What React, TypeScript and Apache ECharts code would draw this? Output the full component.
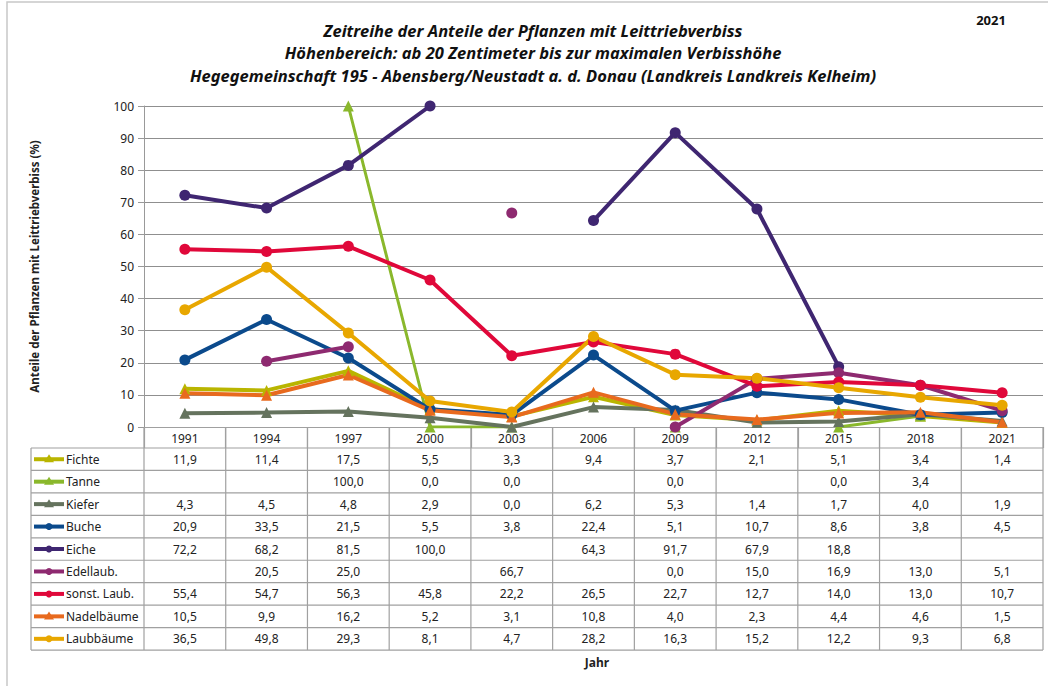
import React, { useEffect, useRef } from "react";
import * as echarts from "echarts";

const years = ["1991", "1994", "1997", "2000", "2003", "2006", "2009", "2012", "2015", "2018", "2021"];
const seriesNames = ["Fichte", "Tanne", "Kiefer", "Buche", "Eiche", "Edellaub.", "sonst. Laub.", "Nadelbäume", "Laubbäume"];
const fichte = [11.9, 11.4, 17.5, 5.5, 3.3, 9.4, 3.7, 2.1, 5.1, 3.4, 1.4];
const tanne = [null, null, 100.0, 0.0, 0.0, null, 0.0, null, 0.0, 3.4, null];
const kiefer = [4.3, 4.5, 4.8, 2.9, 0.0, 6.2, 5.3, 1.4, 1.7, 4.0, 1.9];
const buche = [20.9, 33.5, 21.5, 5.5, 3.8, 22.4, 5.1, 10.7, 8.6, 3.8, 4.5];
const eiche = [72.2, 68.2, 81.5, 100.0, null, 64.3, 91.7, 67.9, 18.8, null, null];
const edellaub = [null, 20.5, 25.0, null, 66.7, null, 0.0, 15.0, 16.9, 13.0, 5.1];
const sonstLaub = [55.4, 54.7, 56.3, 45.8, 22.2, 26.5, 22.7, 12.7, 14.0, 13.0, 10.7];
const nadelbaeume = [10.5, 9.9, 16.2, 5.2, 3.1, 10.8, 4.0, 2.3, 4.4, 4.6, 1.5];
const laubbaeume = [36.5, 49.8, 29.3, 8.1, 4.7, 28.2, 16.3, 15.2, 12.2, 9.3, 6.8];
const seriesData = [fichte, tanne, kiefer, buche, eiche, edellaub, sonstLaub, nadelbaeume, laubbaeume];
const seriesColors = ["#B9B500", "#8AB82C", "#65735E", "#0B4A8C", "#3F2671", "#8E2A70", "#E0083A", "#E86A1E", "#E8A700"];
const seriesSymbols = ["triangle", "triangle", "triangle", "circle", "circle", "circle", "circle", "triangle", "circle"];
const yTicks = [0, 10, 20, 30, 40, 50, 60, 70, 80, 90, 100];

const titleLines = [
  "Zeitreihe der Anteile der Pflanzen mit Leittriebverbiss",
  "Höhenbereich: ab 20 Zentimeter bis zur maximalen Verbisshöhe",
  "Hegegemeinschaft 195 - Abensberg/Neustadt a. d. Donau (Landkreis Landkreis Kelheim)",
];

const FONT = "'Noto Sans', 'Open Sans', sans-serif";
const W = 1048;
const H = 686;
const GL = 144;
const GR = 1043;
const GT = 106;
const GB = 427;
const HEADER_B = 448;
const ROW_H = 22.45;
const LEG_L = 31;
const LINE_C = "#A0A0A0";

function fmt(v: number | null) {
  if (v === null || v === undefined) return "";
  return v.toFixed(1).replace(".", ",");
}

export default function App() {
  const ref = useRef<HTMLDivElement>(null);
  useEffect(() => {
    if (!ref.current) return;
    const chart = echarts.init(ref.current, null, { renderer: "svg" });
    const colW = (GR - GL) / years.length;
    const graphics: any[] = [];
    // outer frame
    graphics.push({ type: "rect", shape: { x: 7, y: 2, width: W + 20, height: H + 20 }, style: { fill: "none", stroke: "#C8C8C8", lineWidth: 1.5 }, silent: true });
    titleLines.forEach((t, i) => {
      graphics.push({
        type: "text", x: 533, y: 30 + i * 22.5,
        style: { text: t, fill: "#111", font: `italic bold 16.5px ${FONT}`, textAlign: "center", textVerticalAlign: "middle" },
      });
    });
    graphics.push({ type: "text", x: 991, y: 20, style: { text: "2021", fill: "#111", font: `bold 13px ${FONT}`, textAlign: "center", textVerticalAlign: "middle" } });
    graphics.push({ type: "text", x: 597, y: 662, style: { text: "Jahr", fill: "#222", font: `bold 12px ${FONT}`, textAlign: "center", textVerticalAlign: "middle" } });
    // table lines
    const tableBottom = HEADER_B + ROW_H * seriesNames.length;
    for (let i = 0; i <= years.length; i++) {
      const x = GL + i * colW;
      graphics.push({ type: "line", shape: { x1: x, y1: GB, x2: x, y2: tableBottom }, style: { stroke: LINE_C, lineWidth: 1.2 }, silent: true });
    }
    graphics.push({ type: "line", shape: { x1: LEG_L, y1: HEADER_B, x2: LEG_L, y2: tableBottom }, style: { stroke: LINE_C, lineWidth: 1.2 }, silent: true });
    for (let r = 0; r <= seriesNames.length; r++) {
      const y = HEADER_B + r * ROW_H;
      graphics.push({ type: "line", shape: { x1: LEG_L, y1: y, x2: GR, y2: y }, style: { stroke: LINE_C, lineWidth: 1.2 }, silent: true });
    }
    seriesNames.forEach((name, r) => {
      const cy = HEADER_B + r * ROW_H + ROW_H / 2;
      const col = seriesColors[r];
      graphics.push({ type: "line", shape: { x1: 34, y1: cy, x2: 64, y2: cy }, style: { stroke: col, lineWidth: 4 }, silent: true });
      if (seriesSymbols[r] === "circle") {
        graphics.push({ type: "circle", shape: { cx: 49, cy, r: 3.5 }, style: { fill: col }, silent: true });
      } else {
        graphics.push({ type: "polygon", shape: { points: [[49, cy - 5], [54, cy + 3], [44, cy + 3]] }, style: { fill: col }, silent: true });
      }
      graphics.push({ type: "text", x: 66, y: cy, style: { text: name, fill: "#222", font: `12px ${FONT}`, textAlign: "left", textVerticalAlign: "middle" } });
      seriesData[r].forEach((v, c) => {
        const s = fmt(v as any);
        if (!s) return;
        graphics.push({ type: "text", x: GL + (c + 0.5) * colW, y: cy, style: { text: s, fill: "#222", font: `12px ${FONT}`, textAlign: "center", textVerticalAlign: "middle" } });
      });
    });

    chart.setOption({
      animation: false,
      backgroundColor: "#fff",
      grid: { left: GL, right: W - GR, top: GT, bottom: H - GB },
      xAxis: {
        type: "category",
        data: years,
        boundaryGap: true,
        axisLine: { lineStyle: { color: LINE_C, width: 1.2 } },
        axisTick: { show: true, interval: 0, length: HEADER_B - GB, lineStyle: { color: LINE_C, width: 1.2 } },
        axisLabel: { color: "#222", fontSize: 12, fontFamily: FONT, margin: 5, interval: 0 },
        splitLine: { show: false },
      },
      yAxis: {
        type: "value",
        min: yTicks[0],
        max: yTicks[yTicks.length - 1],
        interval: 10,
        name: "Anteile der Pflanzen mit Leittriebverbiss (%)",
        nameLocation: "middle",
        nameGap: 104,
        nameRotate: 90,
        nameTextStyle: { color: "#222", fontSize: 11.5, fontWeight: "bold", fontFamily: FONT },
        axisLine: { show: true, lineStyle: { color: "#999", width: 1 } },
        axisTick: { show: true, length: 6, lineStyle: { color: "#999" } },
        axisLabel: { color: "#222", fontSize: 12, fontFamily: FONT, margin: 10 },
        splitLine: { show: true, lineStyle: { color: "#8F8F8F", width: 1 } },
      },
      series: seriesNames.map((name, i) => ({
        name,
        type: "line",
        data: seriesData[i],
        connectNulls: false,
        symbol: seriesSymbols[i],
        symbolSize: 11,
        showAllSymbol: true,
        lineStyle: { color: seriesColors[i], width: i === 1 ? 3 : 4 },
        itemStyle: { color: seriesColors[i], borderWidth: 0 },
        emphasis: { disabled: true },
      })),
      graphic: graphics,
    });
    return () => chart.dispose();
  }, []);
  return <div ref={ref} style={{ width: W, height: H, position: "absolute", left: 0, top: 0 }} />;
}
